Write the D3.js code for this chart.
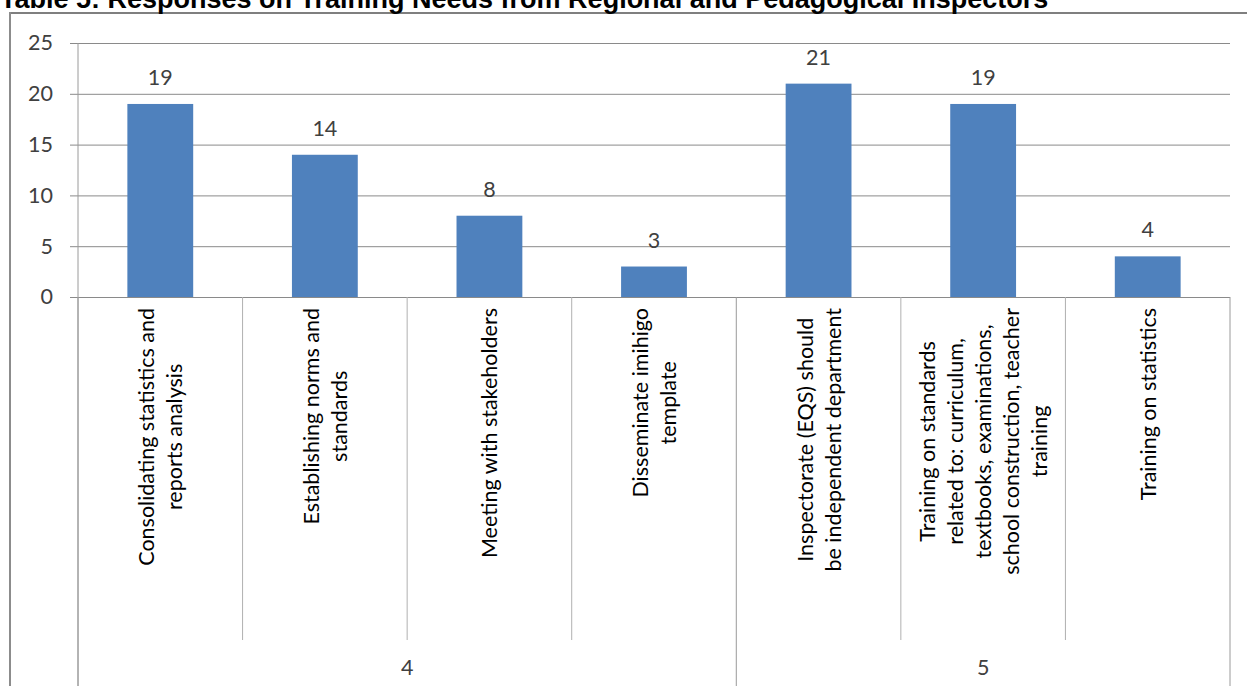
<!DOCTYPE html>
<html>
<head>
<meta charset="utf-8">
<script src="https://cdn.jsdelivr.net/npm/d3@7"></script>
<style>
  html, body { margin: 0; padding: 0; background: #fff; }
  svg { display: block; }
</style>
</head>
<body>
<svg id="chart" width="1247" height="686"></svg>
<script>
// Responses per training need, grouped by inspector level
const categories = [
  "Consolidating statistics and\nreports analysis",
  "Establishing norms and\nstandards",
  "Meeting with stakeholders",
  "Disseminate imihigo\ntemplate",
  "Inspectorate (EQS) should\nbe independent department",
  "Training on standards\nrelated to: curriculum,\ntextbooks, examinations,\nschool construction, teacher\ntraining",
  "Training on statistics"
];
const values = [19, 14, 8, 3, 21, 19, 4];
const groupLabels = ["4", "5"];
const groupSizes = [4, 3];
const yTicks = [0, 5, 10, 15, 20, 25];
const title = "Table 5: Responses on Training Needs from Regional and Pedagogical Inspectors";

const svg = d3.select("#chart");
const W = 1247, H = 686;
const plotLeft = 78, plotRight = 1230, plotTop = 43, plotBase = 297;
const labelFont = "Lato, 'Open Sans', sans-serif";
const fs = 21.5;

// Frame around the chart area
svg.append("line").attr("x1", 10).attr("x2", W).attr("y1", 13).attr("y2", 13)
  .attr("stroke", "#7f7f7f").attr("stroke-width", 2);
svg.append("line").attr("x1", 10).attr("x2", 10).attr("y1", 12).attr("y2", H)
  .attr("stroke", "#8c8c8c").attr("stroke-width", 2);

// Title (its upper part runs off the top edge)
svg.append("text")
  .attr("x", 0).attr("y", 8)
  .attr("font-family", "'Liberation Sans', Arial, sans-serif")
  .attr("font-weight", "bold")
  .attr("font-size", 27)
  .attr("fill", "#000")
  .text(title);

const x = d3.scaleBand().domain(d3.range(categories.length)).range([plotLeft, plotRight])
  .paddingInner(0.6).paddingOuter(0.3);
const band = (plotRight - plotLeft) / categories.length;
const y = d3.scaleLinear().domain([0, 25]).range([plotBase, plotTop]);

// Gridlines and tick marks
const yAxis = d3.axisLeft(y).tickValues(yTicks).tickSize(-(plotRight - plotLeft)).tickSizeOuter(0).tickPadding(25);
const gy = svg.append("g").attr("transform", `translate(${plotLeft},0)`).call(yAxis);
gy.select(".domain").remove();
gy.selectAll(".tick line").attr("stroke", "#8a8a8a").attr("x1", -8);
gy.selectAll(".tick text")
  .attr("font-family", labelFont).attr("font-size", fs).attr("fill", "#404040");

// Vertical axis line
svg.append("line").attr("x1", plotLeft).attr("x2", plotLeft).attr("y1", plotTop).attr("y2", H)
  .attr("stroke", "#9a9a9a");

// Bars
svg.append("g").selectAll("rect").data(values).join("rect")
  .attr("x", (d, i) => x(i))
  .attr("width", x.bandwidth())
  .attr("y", d => y(d))
  .attr("height", d => y(0) - y(d))
  .attr("fill", "#4f81bd");

// Value labels
svg.append("g").selectAll("text").data(values).join("text")
  .attr("x", (d, i) => x(i) + x.bandwidth() / 2)
  .attr("y", d => y(d) - 19)
  .attr("text-anchor", "middle")
  .attr("font-family", labelFont).attr("font-size", fs).attr("fill", "#404040")
  .text(d => d);

// Category dividers below the axis
const groupEdges = [0];
groupSizes.forEach(s => groupEdges.push(groupEdges[groupEdges.length - 1] + s));
for (let k = 0; k <= categories.length; k++) {
  const xx = plotLeft + k * band;
  const full = groupEdges.includes(k);
  svg.append("line")
    .attr("x1", xx).attr("x2", xx)
    .attr("y1", plotBase).attr("y2", full ? H : 640)
    .attr("stroke", full ? "#9a9a9a" : "#b0b0b0");
}

// Rotated, wrapped category labels
const lineH = 28;
categories.forEach((c, i) => {
  const lines = c.split("\n");
  const g = svg.append("g")
    .attr("transform", `translate(${plotLeft + (i + 0.5) * band},308) rotate(-90)`);
  const texts = g.selectAll("text").data(lines).join("text")
    .attr("font-family", labelFont).attr("font-size", fs).attr("fill", "#000")
    .attr("text-anchor", "middle")
    .attr("dominant-baseline", "central")
    .attr("y", (d, j) => (j - (lines.length - 1) / 2) * lineH)
    .text(d => d);
  let maxLen = 0;
  texts.each(function () { maxLen = Math.max(maxLen, this.getComputedTextLength()); });
  texts.attr("x", -maxLen / 2);
});

// Group labels
groupLabels.forEach((g, i) => {
  const x0 = plotLeft + groupEdges[i] * band, x1 = plotLeft + groupEdges[i + 1] * band;
  svg.append("text")
    .attr("x", (x0 + x1) / 2).attr("y", 675)
    .attr("text-anchor", "middle")
    .attr("font-family", labelFont).attr("font-size", fs).attr("fill", "#404040")
    .text(g);
});
</script>
</body>
</html>
